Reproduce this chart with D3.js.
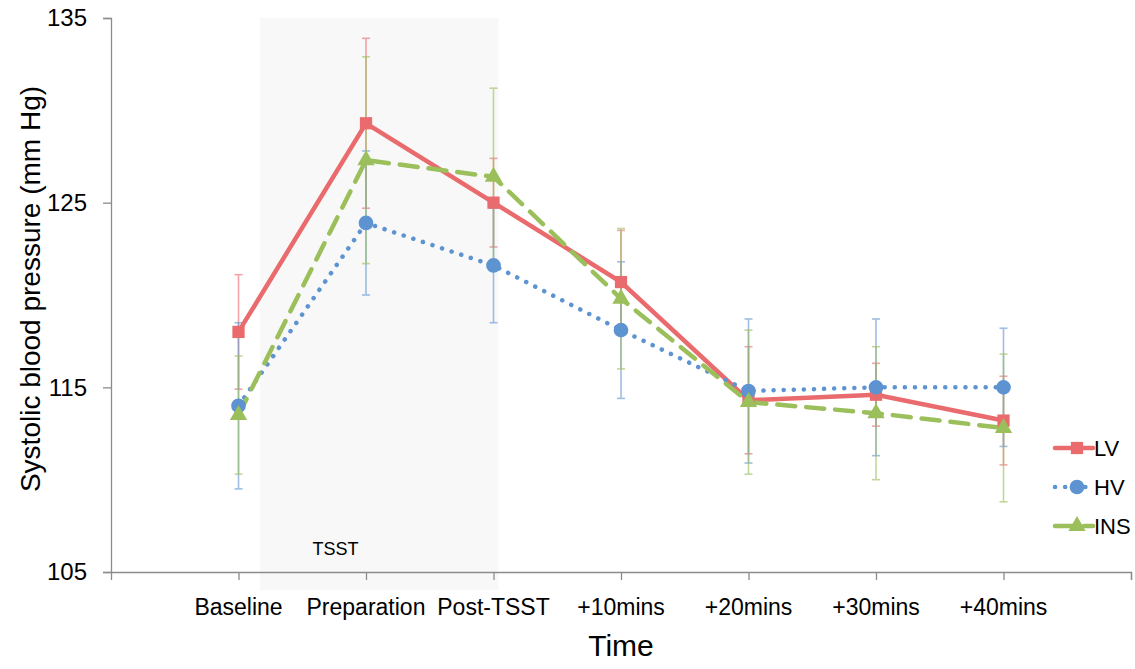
<!DOCTYPE html>
<html>
<head>
<meta charset="utf-8">
<script src="https://cdn.jsdelivr.net/npm/d3@7"></script>
<style>
  body { margin: 0; background: #fff; }
  text { font-family: "Liberation Sans", Arial, sans-serif; fill: #000; }
</style>
</head>
<body>
<svg id="chart" width="1135" height="669"></svg>
<script>
const categories = ["Baseline", "Preparation", "Post-TSST", "+10mins", "+20mins", "+30mins", "+40mins"];
const lvValues = [118.0, 129.3, 125.0, 120.7, 114.3, 114.6, 113.2];
const lvErrors = [3.1, 4.6, 2.4, 2.8, 2.9, 1.7, 2.4];
const hvValues = [114.0, 123.9, 121.6, 118.1, 114.8, 115.0, 115.0];
const hvErrors = [4.5, 3.9, 3.1, 3.7, 3.9, 3.7, 3.2];
const insValues = [113.5, 127.3, 126.4, 119.8, 114.2, 113.6, 112.8];
const insErrors = [3.2, 5.6, 4.8, 3.8, 3.9, 3.6, 4.0];
const yTicks = [105, 115, 125, 135];
const shadeRange = [0.17, 2.04]; // TSST period, in category index units

const svg = d3.select("#chart");
const x = d3.scaleLinear().domain([-1, 7]).range([111, 1131]);
const y = d3.scaleLinear().domain([105, 135]).range([572, 18]);

// TSST shading
svg.append("rect")
  .attr("x", x(shadeRange[0]))
  .attr("y", y(135))
  .attr("width", x(shadeRange[1]) - x(shadeRange[0]))
  .attr("height", 590 - y(135))
  .attr("fill", "#f8f8f8");

svg.append("text")
  .attr("x", x(0.76))
  .attr("y", 555)
  .attr("text-anchor", "middle")
  .style("font-size", "18px")
  .text("TSST");

// axes
const yAxis = svg.append("g")
  .attr("transform", `translate(${x(-1)},0)`)
  .call(d3.axisLeft(y).tickValues(yTicks).tickSize(8).tickPadding(16));
const xAxis = svg.append("g")
  .attr("transform", `translate(0,${y(105)})`)
  .call(d3.axisBottom(x).tickValues(d3.range(0, 8)).tickSize(8).tickFormat(""));
[yAxis, xAxis].forEach((g) => {
  g.selectAll("path, line").attr("stroke", "#8c8c8c").attr("stroke-width", 1.3);
});
yAxis.selectAll("text")
  .style("font-size", "24px")
  .attr("font-family", "Liberation Sans, Arial, sans-serif")
  .attr("fill", "#000");

svg.append("g")
  .selectAll("text")
  .data(categories)
  .join("text")
  .attr("x", (d, i) => x(i))
  .attr("y", 615)
  .attr("text-anchor", "middle")
  .style("font-size", "23px")
  .text((d) => d);

svg.append("text")
  .attr("x", x(3))
  .attr("y", 656)
  .attr("text-anchor", "middle")
  .style("font-size", "30px")
  .text("Time");

svg.append("text")
  .attr("transform", `translate(40,${(y(105) + y(135)) / 2 - 6}) rotate(-90)`)
  .attr("text-anchor", "middle")
  .style("font-size", "28px")
  .text("Systolic blood pressure (mm Hg)");

const series = [
  { name: "LV", values: lvValues, errors: lvErrors, color: "#e96b6d", dash: null, width: 4.5, marker: "square" },
  { name: "HV", values: hvValues, errors: hvErrors, color: "#5e93d1", dash: "0.1,10", width: 4.5, marker: "circle" },
  { name: "INS", values: insValues, errors: insErrors, color: "#9bbf5a", dash: "18,11", width: 4.5, marker: "triangle" },
];

// error bars
series.forEach((s) => {
  const g = svg.append("g").attr("stroke", s.color).attr("stroke-width", 1.6).attr("opacity", 0.6);
  s.values.forEach((v, i) => {
    const cx = x(i), top = y(v + s.errors[i]), bot = y(v - s.errors[i]);
    g.append("line").attr("x1", cx).attr("x2", cx).attr("y1", top).attr("y2", bot);
    g.append("line").attr("x1", cx - 4).attr("x2", cx + 4).attr("y1", top).attr("y2", top);
    g.append("line").attr("x1", cx - 4).attr("x2", cx + 4).attr("y1", bot).attr("y2", bot);
  });
});

const line = d3.line().x((d, i) => x(i)).y((d) => y(d));
const symbols = {
  square: d3.symbol().type(d3.symbolSquare).size(150),
  circle: d3.symbol().type(d3.symbolCircle).size(170),
  triangle: d3.symbol().type(d3.symbolTriangle).size(130),
};

series.forEach((s) => {
  svg.append("path")
    .datum(s.values)
    .attr("fill", "none")
    .attr("stroke", s.color)
    .attr("stroke-width", s.width)
    .attr("stroke-linecap", "round")
    .attr("stroke-dasharray", s.dash)
    .attr("d", line);
});
series.forEach((s) => {
  svg.append("g")
    .selectAll("path")
    .data(s.values)
    .join("path")
    .attr("transform", (d, i) => `translate(${x(i)},${y(d)})`)
    .attr("d", symbols[s.marker])
    .attr("fill", s.color);
});

// legend
const legend = svg.append("g").attr("transform", "translate(1055,448)");
series.forEach((s, i) => {
  const row = legend.append("g").attr("transform", `translate(0,${i * 39})`);
  row.append("line")
    .attr("x1", 0).attr("x2", 38)
    .attr("stroke", s.color)
    .attr("stroke-width", s.width)
    .attr("stroke-linecap", "round")
    .attr("stroke-dasharray", s.dash);
  row.append("path")
    .attr("transform", "translate(22,0)")
    .attr("d", symbols[s.marker])
    .attr("fill", s.color);
  row.append("text")
    .attr("x", 39)
    .attr("y", 8)
    .style("font-size", "22px")
    .text(s.name);
});
</script>
</body>
</html>
